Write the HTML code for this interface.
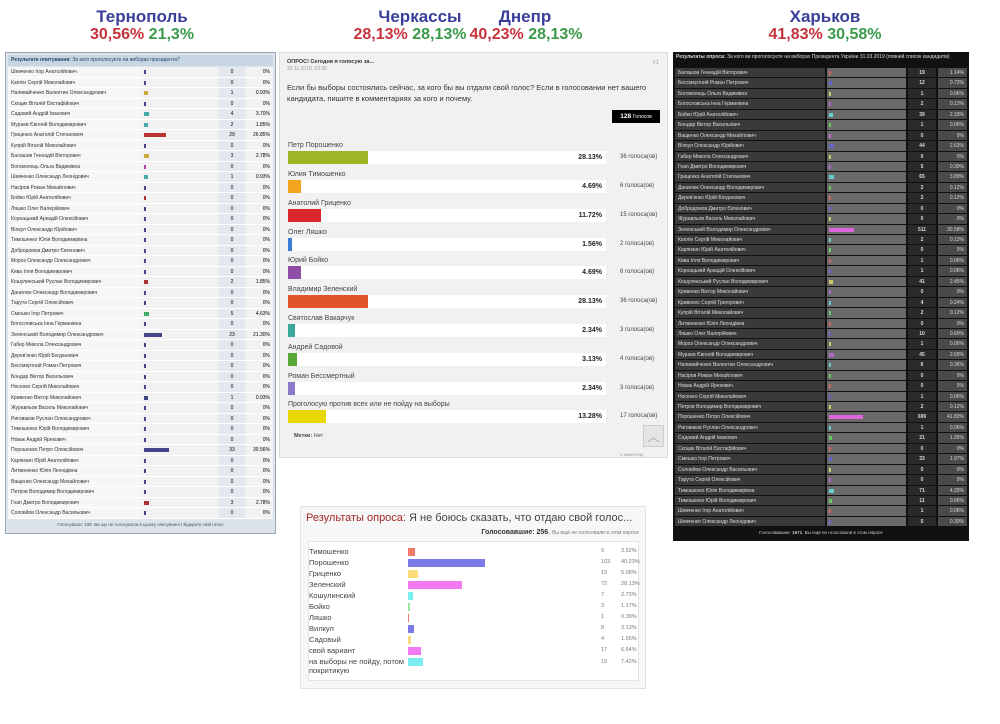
<!DOCTYPE html><html><head><meta charset="utf-8"><style>
*{margin:0;padding:0;box-sizing:border-box}
body{width:1000px;height:724px;background:#fff;position:relative;overflow:hidden;font-family:"Liberation Sans","DejaVu Sans",sans-serif}
.a{position:absolute;white-space:nowrap}
.h{font-weight:bold;font-size:17px;color:#3a3f9a;text-align:center}
.p{font-weight:bold;font-size:16px;text-align:center}
.r{color:#c8323c}.g{color:#3a9a4a}
#t{left:5px;top:52px;width:271px;height:482px;background:#dde3ea;border:1px solid #9aa8b5}
#t .hd{height:11px;background:#c8d6e4;font-size:5px;line-height:11px;padding-left:3px;color:#246;margin:2px 2px 1px}
#t .rw{display:flex;height:10.5px;font-size:5px;line-height:10.5px;margin:0 2px}
#t .n{width:133px;background:#f6f6f6;padding-left:3px;color:#333;border-bottom:1px solid #fff}
#t .b{width:78px;background:#f2f2f2;position:relative;border-bottom:1px solid #fff}
#t .b i{position:absolute;left:3px;top:3px;height:4px;width:2px;background:#448}
#t .c{width:26px;background:#e2e8ee;text-align:center;border-bottom:1px solid #fff}
#t .q{flex:1;background:#f2f2f2;text-align:right;padding-right:3px;border-bottom:1px solid #fff}
#t .ft{font-size:4.5px;text-align:center;color:#456;margin-top:3px}
#k{left:673px;top:52px;width:296px;height:489px;background:#111}
#k .hd{height:16px;font-size:5px;line-height:7px;padding:2px 3px;color:#ddd}
#k .rw{display:flex;height:10.45px;font-size:5px;line-height:10.45px;margin:0 2px;color:#ddd}
#k .n{width:150px;background:#3a3a3a;padding-left:3px;border-bottom:1px solid #111}
#k .b{width:79px;background:#6a6a6a;position:relative;border-bottom:1px solid #111;margin-left:2px}
#k .b i{position:absolute;left:2px;top:3px;height:4px;width:2px;background:#a6c}
#k .c{width:28px;background:#2a2a2a;text-align:center;font-weight:bold;border-bottom:1px solid #111;margin-left:2px}
#k .q{flex:1;background:#4a4a4a;text-align:right;padding-right:3px;border-bottom:1px solid #111;margin-left:2px}
#k .ft{font-size:4.5px;text-align:center;color:#ccc;margin-top:3px}
#m{left:279px;top:52px;width:389px;height:406px;background:#f1f1f1;border:1px solid #ddd}
.it{position:absolute;left:8px;width:372px;font-size:7px;color:#444}
.it .tr{position:absolute;left:0;top:9px;width:318px;height:13px;background:#fff}
.it .br{position:absolute;left:0;top:0;height:13px}
.it .pc{position:absolute;right:4px;top:3px;font-weight:bold;font-size:7px;color:#222}
.it .v{position:absolute;left:332px;top:12px;font-size:6px;color:#444}
#bt{left:300px;top:506px;width:346px;height:183px;background:#f7f7f7;border:1px solid #e2e2e2}
.br2{position:absolute;font-size:7.5px;color:#444;left:8px}
.br2 b{position:absolute;left:99px;top:1px;height:8px}
.br2 s{position:absolute;text-decoration:none;font-size:5.5px;color:#777;left:292px;top:1px}
.br2 u{position:absolute;text-decoration:none;font-size:5.5px;color:#777;left:312px;top:1px}
</style></head><body>
<div class="a h" style="left:62px;top:7px;width:160px">Тернополь</div>
<div class="a p" style="left:62px;top:26px;width:160px"><span class="r">30,56%</span> <span class="g">21,3%</span></div>
<div class="a h" style="left:360px;top:7px;width:120px">Черкассы</div>
<div class="a h" style="left:470px;top:7px;width:110px">Днепр</div>
<div class="a p" style="left:350px;top:26px;width:120px"><span class="r">28,13%</span> <span class="g">28,13%</span></div>
<div class="a p" style="left:466px;top:26px;width:120px"><span class="r">40,23%</span> <span class="g">28,13%</span></div>
<div class="a h" style="left:760px;top:7px;width:130px">Харьков</div>
<div class="a p" style="left:750px;top:26px;width:150px"><span class="r">41,83%</span> <span class="g">30,58%</span></div>

<div class="a" id="t">
<div class="hd"><b>Результати опитування:</b> За кого проголосуєте на виборах президента?</div>
<div class="rw"><div class="n">Шевченко Ігор Анатолійович</div><div class="b"><i></i></div><div class="c">0</div><div class="q">0%</div></div>
<div class="rw"><div class="n">Каплін Сергій Миколайович</div><div class="b"><i></i></div><div class="c">0</div><div class="q">0%</div></div>
<div class="rw"><div class="n">Наливайченко Валентин Олександрович</div><div class="b"><i style="width:4px;background:#ca4"></i></div><div class="c">1</div><div class="q">0.93%</div></div>
<div class="rw"><div class="n">Скоцик Віталій Євстафійович</div><div class="b"><i></i></div><div class="c">0</div><div class="q">0%</div></div>
<div class="rw"><div class="n">Садовий Андрій Іванович</div><div class="b"><i style="width:5px;background:#4aa"></i></div><div class="c">4</div><div class="q">3.70%</div></div>
<div class="rw"><div class="n">Мураев Євгеній Володимирович</div><div class="b"><i style="width:4px;background:#4aa"></i></div><div class="c">2</div><div class="q">1.85%</div></div>
<div class="rw"><div class="n">Гриценко Анатолій Степанович</div><div class="b"><i style="width:22px;background:#b33"></i></div><div class="c">29</div><div class="q">26.85%</div></div>
<div class="rw"><div class="n">Купрій Віталій Миколайович</div><div class="b"><i></i></div><div class="c">0</div><div class="q">0%</div></div>
<div class="rw"><div class="n">Балашов Геннадій Вікторович</div><div class="b"><i style="width:5px;background:#ca4"></i></div><div class="c">3</div><div class="q">2.78%</div></div>
<div class="rw"><div class="n">Богомолець Ольга Вадимівна</div><div class="b"><i style="background:#a4a"></i></div><div class="c">0</div><div class="q">0%</div></div>
<div class="rw"><div class="n">Шевченко Олександр Леонідович</div><div class="b"><i style="width:4px;background:#4aa"></i></div><div class="c">1</div><div class="q">0.93%</div></div>
<div class="rw"><div class="n">Насіров Роман Михайлович</div><div class="b"><i></i></div><div class="c">0</div><div class="q">0%</div></div>
<div class="rw"><div class="n">Бойко Юрій Анатолійович</div><div class="b"><i style="background:#a33"></i></div><div class="c">0</div><div class="q">0%</div></div>
<div class="rw"><div class="n">Ляшко Олег Валерійович</div><div class="b"><i></i></div><div class="c">0</div><div class="q">0%</div></div>
<div class="rw"><div class="n">Корнацький Аркадій Олексійович</div><div class="b"><i></i></div><div class="c">0</div><div class="q">0%</div></div>
<div class="rw"><div class="n">Вілкул Олександр Юрійович</div><div class="b"><i></i></div><div class="c">0</div><div class="q">0%</div></div>
<div class="rw"><div class="n">Тимошенко Юлія Володимирівна</div><div class="b"><i></i></div><div class="c">0</div><div class="q">0%</div></div>
<div class="rw"><div class="n">Добродомов Дмитро Євгенович</div><div class="b"><i></i></div><div class="c">0</div><div class="q">0%</div></div>
<div class="rw"><div class="n">Мороз Олександр Олександрович</div><div class="b"><i></i></div><div class="c">0</div><div class="q">0%</div></div>
<div class="rw"><div class="n">Кива Ілля Володимирович</div><div class="b"><i></i></div><div class="c">0</div><div class="q">0%</div></div>
<div class="rw"><div class="n">Кошулинський Руслан Володимирович</div><div class="b"><i style="width:4px;background:#a33"></i></div><div class="c">2</div><div class="q">1.85%</div></div>
<div class="rw"><div class="n">Данилюк Олександр Володимирович</div><div class="b"><i></i></div><div class="c">0</div><div class="q">0%</div></div>
<div class="rw"><div class="n">Тарута Сергій Олексійович</div><div class="b"><i></i></div><div class="c">0</div><div class="q">0%</div></div>
<div class="rw"><div class="n">Смешко Ігор Петрович</div><div class="b"><i style="width:5px;background:#4a6"></i></div><div class="c">5</div><div class="q">4.63%</div></div>
<div class="rw"><div class="n">Богословська Інна Германівна</div><div class="b"><i></i></div><div class="c">0</div><div class="q">0%</div></div>
<div class="rw"><div class="n">Зеленський Володимир Олександрович</div><div class="b"><i style="width:18px;background:#448"></i></div><div class="c">23</div><div class="q">21.30%</div></div>
<div class="rw"><div class="n">Габер Микола Олександрович</div><div class="b"><i></i></div><div class="c">0</div><div class="q">0%</div></div>
<div class="rw"><div class="n">Дерев'янко Юрій Богданович</div><div class="b"><i></i></div><div class="c">0</div><div class="q">0%</div></div>
<div class="rw"><div class="n">Бессмертний Роман Петрович</div><div class="b"><i></i></div><div class="c">0</div><div class="q">0%</div></div>
<div class="rw"><div class="n">Бондар Віктор Васильович</div><div class="b"><i></i></div><div class="c">0</div><div class="q">0%</div></div>
<div class="rw"><div class="n">Носенко Сергій Миколайович</div><div class="b"><i></i></div><div class="c">0</div><div class="q">0%</div></div>
<div class="rw"><div class="n">Кривенко Віктор Миколайович</div><div class="b"><i style="width:4px"></i></div><div class="c">1</div><div class="q">0.93%</div></div>
<div class="rw"><div class="n">Журавльов Василь Миколайович</div><div class="b"><i></i></div><div class="c">0</div><div class="q">0%</div></div>
<div class="rw"><div class="n">Риговаков Руслан Олександрович</div><div class="b"><i></i></div><div class="c">0</div><div class="q">0%</div></div>
<div class="rw"><div class="n">Тимошенко Юрій Володимирович</div><div class="b"><i></i></div><div class="c">0</div><div class="q">0%</div></div>
<div class="rw"><div class="n">Новак Андрій Ярекович</div><div class="b"><i></i></div><div class="c">0</div><div class="q">0%</div></div>
<div class="rw"><div class="n">Порошенко Петро Олексійович</div><div class="b"><i style="width:25px;background:#448"></i></div><div class="c">33</div><div class="q">30.56%</div></div>
<div class="rw"><div class="n">Карпизин Юрій Анатолійович</div><div class="b"><i></i></div><div class="c">0</div><div class="q">0%</div></div>
<div class="rw"><div class="n">Литвиненко Юлія Леонідівна</div><div class="b"><i></i></div><div class="c">0</div><div class="q">0%</div></div>
<div class="rw"><div class="n">Ващенко Олександр Михайлович</div><div class="b"><i></i></div><div class="c">0</div><div class="q">0%</div></div>
<div class="rw"><div class="n">Петров Володимир Володимирович</div><div class="b"><i></i></div><div class="c">0</div><div class="q">0%</div></div>
<div class="rw"><div class="n">Гнап Дмитро Володимирович</div><div class="b"><i style="width:5px;background:#a33"></i></div><div class="c">3</div><div class="q">2.78%</div></div>
<div class="rw"><div class="n">Соловйов Олександр Васильович</div><div class="b"><i></i></div><div class="c">0</div><div class="q">0%</div></div>
<div class="ft">Голосували: 108. Ви ще не голосували в цьому опитуванні | Відкрити свій голос</div>
</div>

<div class="a" id="m">
<div class="a" style="left:7px;top:6px;font-size:5.5px;font-weight:bold;color:#333">ОПРОС! Сегодня я голосую за...</div>
<div class="a" style="left:7px;top:13px;font-size:5px;color:#999">20.11.2018, 03:26</div>
<div class="a" style="right:8px;top:7px;font-size:6px;color:#aaa">#1</div>
<div class="a" style="left:7px;top:29px;font-size:7.5px;line-height:11px;color:#333">Если бы выборы состоялись сейчас, за кого бы вы отдали свой голос? Если в голосовании нет вашего<br>кандидата, пишите в комментариях за кого и почему.</div>
<div class="a" style="left:332px;top:57px;width:48px;height:13px;background:#000;color:#fff;font-size:6.5px;line-height:13px;text-align:center"><b>128</b> <span style="font-size:5px">Голосов</span></div>
<div class="it" style="top:89px">Петр Порошенко<div class="tr"><div class="br" style="width:80px;background:#9cb626"></div><div class="pc">28.13%</div></div><div class="v">36 голоса(ов)</div></div>
<div class="it" style="top:118px">Юлия Тимошенко<div class="tr"><div class="br" style="width:13px;background:#f2a51c"></div><div class="pc">4.69%</div></div><div class="v">6 голоса(ов)</div></div>
<div class="it" style="top:147px">Анатолий Гриценко<div class="tr"><div class="br" style="width:33px;background:#d9262a"></div><div class="pc">11.72%</div></div><div class="v">15 голоса(ов)</div></div>
<div class="it" style="top:176px">Олег Ляшко<div class="tr"><div class="br" style="width:4px;background:#3a7bd5"></div><div class="pc">1.56%</div></div><div class="v">2 голоса(ов)</div></div>
<div class="it" style="top:204px">Юрий Бойко<div class="tr"><div class="br" style="width:13px;background:#8e4ea8"></div><div class="pc">4.69%</div></div><div class="v">6 голоса(ов)</div></div>
<div class="it" style="top:233px">Владимир Зеленский<div class="tr"><div class="br" style="width:80px;background:#e0562a"></div><div class="pc">28.13%</div></div><div class="v">36 голоса(ов)</div></div>
<div class="it" style="top:262px">Святослав Вакарчук<div class="tr"><div class="br" style="width:7px;background:#3aa89a"></div><div class="pc">2.34%</div></div><div class="v">3 голоса(ов)</div></div>
<div class="it" style="top:291px">Андрей Садовой<div class="tr"><div class="br" style="width:9px;background:#5aa83a"></div><div class="pc">3.13%</div></div><div class="v">4 голоса(ов)</div></div>
<div class="it" style="top:320px">Роман Бессмертный<div class="tr"><div class="br" style="width:7px;background:#8a7ac8"></div><div class="pc">2.34%</div></div><div class="v">3 голоса(ов)</div></div>
<div class="it" style="top:348px">Проголосую против всех или не пойду на выборы<div class="tr"><div class="br" style="width:38px;background:#e8d800"></div><div class="pc">13.28%</div></div><div class="v">17 голоса(ов)</div></div>
<div class="a" style="left:14px;top:380px;font-size:5.5px;color:#444"><b>Метки:</b> Нет</div>
<div class="a" style="left:363px;top:372px;width:21px;height:22px;background:#e4e4e4;border:1px solid #ccc;color:#aaa;font-size:12px;text-align:center;line-height:22px">︿</div>
</div>
<div class="a" style="left:620px;top:452px;font-size:4.5px;color:#999">1 коментар</div>

<div class="a" id="bt">
<div class="a" style="left:5px;top:5px;font-size:11px;color:#444"><span style="color:#a02828">Результаты опроса:</span> Я не боюсь сказать, что отдаю свой голос...</div>
<div class="a" style="right:6px;top:22px;font-size:7px;color:#333"><b>Голосовавшие: 256</b>. <span style="font-size:5px;color:#777">Вы ещё не голосовали в этом опросе</span></div>
<div class="a" style="left:7px;top:34px;width:331px;height:140px;background:#fff;border:1px solid #e4e4e4"></div>
<div class="br2" style="top:40px">Тимошенко<b style="width:7px;background:#f07a6a"></b><s>9</s><u>3.52%</u></div>
<div class="br2" style="top:51px">Порошенко<b style="width:77px;background:#7a7ae8"></b><s>103</s><u>40.23%</u></div>
<div class="br2" style="top:62px">Гриценко<b style="width:10px;background:#fadc7a"></b><s>13</s><u>5.08%</u></div>
<div class="br2" style="top:73px">Зеленский<b style="width:54px;background:#f27af0"></b><s>72</s><u>28.13%</u></div>
<div class="br2" style="top:84px">Кошулинский<b style="width:5px;background:#7aeef0"></b><s>7</s><u>2.73%</u></div>
<div class="br2" style="top:95px">Бойко<b style="width:2px;background:#9ae8a0"></b><s>3</s><u>1.17%</u></div>
<div class="br2" style="top:106px">Ляшко<b style="width:1px;background:#f07a6a"></b><s>1</s><u>0.39%</u></div>
<div class="br2" style="top:117px">Вилкул<b style="width:6px;background:#7a7ae8"></b><s>8</s><u>3.13%</u></div>
<div class="br2" style="top:128px">Садовый<b style="width:3px;background:#fadc7a"></b><s>4</s><u>1.56%</u></div>
<div class="br2" style="top:139px">свой вариант<b style="width:13px;background:#f27af0"></b><s>17</s><u>6.64%</u></div>
<div class="br2" style="top:150px;line-height:9px">на выборы не пойду, потом<br>покритикую<b style="width:15px;background:#7aeef0"></b><s>19</s><u>7.42%</u></div>
</div>

<div class="a" id="k">
<div class="hd"><b>Результаты опроса:</b> За кого ви проголосуєте на виборах Президента України 31.03.2019 (повний список кандидатів)</div>
<div class="rw"><div class="n">Балашов Геннадій Вікторович</div><div class="b"><i style="background:#c66"></i></div><div class="c">19</div><div class="q">1.14%</div></div>
<div class="rw"><div class="n">Бессмертний Роман Петрович</div><div class="b"><i style="width:3px;background:#66c"></i></div><div class="c">12</div><div class="q">0.72%</div></div>
<div class="rw"><div class="n">Богомолець Ольга Вадимівна</div><div class="b"><i style="background:#cc6"></i></div><div class="c">1</div><div class="q">0.06%</div></div>
<div class="rw"><div class="n">Богословська Інна Германівна</div><div class="b"><i></i></div><div class="c">2</div><div class="q">0.12%</div></div>
<div class="rw"><div class="n">Бойко Юрій Анатолійович</div><div class="b"><i style="width:4px;background:#6cc"></i></div><div class="c">39</div><div class="q">2.33%</div></div>
<div class="rw"><div class="n">Бондар Віктор Васильович</div><div class="b"><i style="background:#6c6"></i></div><div class="c">1</div><div class="q">0.06%</div></div>
<div class="rw"><div class="n">Ващенко Олександр Михайлович</div><div class="b"><i style="background:#c6c"></i></div><div class="c">0</div><div class="q">0%</div></div>
<div class="rw"><div class="n">Вілкул Олександр Юрійович</div><div class="b"><i style="width:5px;background:#66c"></i></div><div class="c">44</div><div class="q">2.63%</div></div>
<div class="rw"><div class="n">Габер Микола Олександрович</div><div class="b"><i style="background:#cc6"></i></div><div class="c">0</div><div class="q">0%</div></div>
<div class="rw"><div class="n">Гнап Дмитро Володимирович</div><div class="b"><i></i></div><div class="c">5</div><div class="q">0.30%</div></div>
<div class="rw"><div class="n">Гриценко Анатолій Степанович</div><div class="b"><i style="width:5px;background:#6cc"></i></div><div class="c">65</div><div class="q">3.89%</div></div>
<div class="rw"><div class="n">Данилюк Олександр Володимирович</div><div class="b"><i style="background:#6c6"></i></div><div class="c">2</div><div class="q">0.12%</div></div>
<div class="rw"><div class="n">Дерев'янко Юрій Богданович</div><div class="b"><i style="background:#c66"></i></div><div class="c">2</div><div class="q">0.12%</div></div>
<div class="rw"><div class="n">Добродомов Дмитро Євгенович</div><div class="b"><i style="background:#66c"></i></div><div class="c">0</div><div class="q">0%</div></div>
<div class="rw"><div class="n">Журавльов Василь Миколайович</div><div class="b"><i style="background:#cc6"></i></div><div class="c">0</div><div class="q">0%</div></div>
<div class="rw"><div class="n">Зеленський Володимир Олександрович</div><div class="b"><i style="width:25px;background:#d6d"></i></div><div class="c">511</div><div class="q">30.58%</div></div>
<div class="rw"><div class="n">Каплін Сергій Миколайович</div><div class="b"><i style="background:#6cc"></i></div><div class="c">2</div><div class="q">0.12%</div></div>
<div class="rw"><div class="n">Карпизин Юрій Анатолійович</div><div class="b"><i style="background:#6c6"></i></div><div class="c">0</div><div class="q">0%</div></div>
<div class="rw"><div class="n">Кива Ілля Володимирович</div><div class="b"><i style="background:#c66"></i></div><div class="c">1</div><div class="q">0.06%</div></div>
<div class="rw"><div class="n">Корнацький Аркадій Олексійович</div><div class="b"><i style="background:#66c"></i></div><div class="c">1</div><div class="q">0.06%</div></div>
<div class="rw"><div class="n">Кошулинський Руслан Володимирович</div><div class="b"><i style="width:4px;background:#cc6"></i></div><div class="c">41</div><div class="q">2.45%</div></div>
<div class="rw"><div class="n">Кривенко Віктор Миколайович</div><div class="b"><i></i></div><div class="c">0</div><div class="q">0%</div></div>
<div class="rw"><div class="n">Кривонос Сергій Григорович</div><div class="b"><i style="background:#6cc"></i></div><div class="c">4</div><div class="q">0.24%</div></div>
<div class="rw"><div class="n">Купрій Віталій Миколайович</div><div class="b"><i style="background:#6c6"></i></div><div class="c">2</div><div class="q">0.12%</div></div>
<div class="rw"><div class="n">Литвиненко Юлія Леонідівна</div><div class="b"><i style="background:#c66"></i></div><div class="c">0</div><div class="q">0%</div></div>
<div class="rw"><div class="n">Ляшко Олег Валерійович</div><div class="b"><i style="background:#66c"></i></div><div class="c">10</div><div class="q">0.60%</div></div>
<div class="rw"><div class="n">Мороз Олександр Олександрович</div><div class="b"><i style="background:#cc6"></i></div><div class="c">1</div><div class="q">0.06%</div></div>
<div class="rw"><div class="n">Мураев Євгеній Володимирович</div><div class="b"><i style="width:5px"></i></div><div class="c">45</div><div class="q">2.69%</div></div>
<div class="rw"><div class="n">Наливайченко Валентин Олександрович</div><div class="b"><i style="background:#6cc"></i></div><div class="c">6</div><div class="q">0.36%</div></div>
<div class="rw"><div class="n">Насіров Роман Михайлович</div><div class="b"><i style="background:#6c6"></i></div><div class="c">0</div><div class="q">0%</div></div>
<div class="rw"><div class="n">Новак Андрій Ярекович</div><div class="b"><i style="background:#c66"></i></div><div class="c">0</div><div class="q">0%</div></div>
<div class="rw"><div class="n">Носенко Сергій Миколайович</div><div class="b"><i style="background:#66c"></i></div><div class="c">1</div><div class="q">0.06%</div></div>
<div class="rw"><div class="n">Петров Володимир Володимирович</div><div class="b"><i style="background:#cc6"></i></div><div class="c">2</div><div class="q">0.12%</div></div>
<div class="rw"><div class="n">Порошенко Петро Олексійович</div><div class="b"><i style="width:34px;background:#d6d"></i></div><div class="c">699</div><div class="q">41.83%</div></div>
<div class="rw"><div class="n">Риговаков Руслан Олександрович</div><div class="b"><i style="background:#6cc"></i></div><div class="c">1</div><div class="q">0.06%</div></div>
<div class="rw"><div class="n">Садовий Андрій Іванович</div><div class="b"><i style="width:3px;background:#6c6"></i></div><div class="c">21</div><div class="q">1.26%</div></div>
<div class="rw"><div class="n">Скоцик Віталій Євстафійович</div><div class="b"><i style="background:#c66"></i></div><div class="c">0</div><div class="q">0%</div></div>
<div class="rw"><div class="n">Смешко Ігор Петрович</div><div class="b"><i style="width:3px;background:#66c"></i></div><div class="c">33</div><div class="q">1.97%</div></div>
<div class="rw"><div class="n">Соловйов Олександр Васильович</div><div class="b"><i style="background:#cc6"></i></div><div class="c">0</div><div class="q">0%</div></div>
<div class="rw"><div class="n">Тарута Сергій Олексійович</div><div class="b"><i></i></div><div class="c">0</div><div class="q">0%</div></div>
<div class="rw"><div class="n">Тимошенко Юлія Володимирівна</div><div class="b"><i style="width:5px;background:#6cc"></i></div><div class="c">71</div><div class="q">4.25%</div></div>
<div class="rw"><div class="n">Тимошенко Юрій Володимирович</div><div class="b"><i style="width:3px;background:#6c6"></i></div><div class="c">11</div><div class="q">0.66%</div></div>
<div class="rw"><div class="n">Шевченко Ігор Анатолійович</div><div class="b"><i style="background:#c66"></i></div><div class="c">1</div><div class="q">0.06%</div></div>
<div class="rw"><div class="n">Шевченко Олександр Леонідович</div><div class="b"><i style="background:#66c"></i></div><div class="c">5</div><div class="q">0.30%</div></div>
<div class="ft">Голосовавшие: <b>1671</b>. Вы ещё не голосовали в этом опросе</div>
</div>
</body></html>
